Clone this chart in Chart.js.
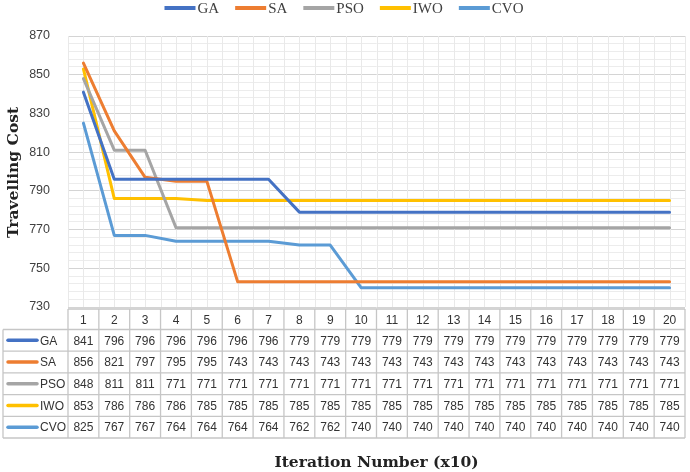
<!DOCTYPE html>
<html>
<head>
<meta charset="utf-8">
<script src="https://cdn.jsdelivr.net/npm/chart.js@4.4.0/dist/chart.umd.min.js"></script>
<style>
  html, body { margin: 0; padding: 0; background: #fff; }
  #wrap { width: 690px; height: 472px; }
</style>
</head>
<body>
<div id="wrap"><canvas id="chart" width="690" height="472"></canvas></div>
<script>
// iteration labels (x10) and travelling cost per algorithm
const iterations = ['1','2','3','4','5','6','7','8','9','10','11','12','13','14','15','16','17','18','19','20'];
const seriesNames = ['GA', 'SA', 'PSO', 'IWO', 'CVO'];
const gaCost  = [841, 796, 796, 796, 796, 796, 796, 779, 779, 779, 779, 779, 779, 779, 779, 779, 779, 779, 779, 779];
const saCost  = [856, 821, 797, 795, 795, 743, 743, 743, 743, 743, 743, 743, 743, 743, 743, 743, 743, 743, 743, 743];
const psoCost = [848, 811, 811, 771, 771, 771, 771, 771, 771, 771, 771, 771, 771, 771, 771, 771, 771, 771, 771, 771];
const iwoCost = [853, 786, 786, 786, 785, 785, 785, 785, 785, 785, 785, 785, 785, 785, 785, 785, 785, 785, 785, 785];
const cvoCost = [825, 767, 767, 764, 764, 764, 764, 762, 762, 740, 740, 740, 740, 740, 740, 740, 740, 740, 740, 740];
const yMin = 730, yMax = 870, yMajor = 20, yMinor = 4;

const seriesValues = [gaCost, saCost, psoCost, iwoCost, cvoCost];
const seriesColors = ['#4472C4', '#ED7D31', '#A5A5A5', '#FFC000', '#5B9BD5'];

const sansFont = '"Liberation Sans", Arial, sans-serif';
const serifFont = '"Liberation Serif", "DejaVu Serif", serif';
const titleFont = '"DejaVu Serif", "Liberation Serif", serif';

// light vertical grid at category centres and borders (Excel style)
const verticalGrid = {
    id: 'verticalGrid',
    beforeDatasetsDraw(chart) {
        const { ctx, chartArea, scales: { x } } = chart;
        const half = (x.getPixelForValue(1) - x.getPixelForValue(0)) / 2;
        ctx.save();
        ctx.strokeStyle = '#e9e9e9';
        ctx.lineWidth = 1;
        iterations.forEach((lab, i) => {
            const cx = x.getPixelForValue(i);
            [cx - half, cx, cx + half].forEach(px => {
                ctx.beginPath();
                ctx.moveTo(Math.round(px) + 0.5, chartArea.top);
                ctx.lineTo(Math.round(px) + 0.5, chartArea.bottom);
                ctx.stroke();
            });
        });
        ctx.restore();
    }
};

// legend row at the very top, swatch + name
const topLegend = {
    id: 'topLegend',
    afterDraw(chart) {
        const { ctx } = chart;
        ctx.save();
        ctx.font = '15px ' + serifFont;
        ctx.textBaseline = 'middle';
        const sw = 31, gapText = 2, gapItem = 16, cy = 8;
        const widths = seriesNames.map(n => sw + gapText + ctx.measureText(n).width);
        const total = widths.reduce((a, b) => a + b, 0) + gapItem * (seriesNames.length - 1);
        let px = 344 - total / 2;
        seriesNames.forEach((name, i) => {
            ctx.fillStyle = seriesColors[i];
            ctx.fillRect(px, cy - 2, sw, 4);
            ctx.fillStyle = '#404040';
            ctx.fillText(name, px + sw + gapText, cy + 1);
            px += widths[i] + gapItem;
        });
        ctx.restore();
    }
};

// data table under the plot + axis titles
const dataTable = {
    id: 'dataTable',
    afterDraw(chart) {
        const { ctx, chartArea, scales: { x } } = chart;
        const half = (x.getPixelForValue(1) - x.getPixelForValue(0)) / 2;
        const top = chartArea.bottom + 2;
        const headH = 20.5, rowH = 21.7;
        const tableLeft = 3;
        const colLeft = chartArea.left, right = chartArea.right;
        const bottom = top + headH + rowH * seriesNames.length;

        ctx.save();
        ctx.strokeStyle = '#c6c6c6';
        ctx.lineWidth = 1.3;
        ctx.beginPath();
        ctx.moveTo(colLeft, top); ctx.lineTo(right, top);
        for (let r = 0; r <= seriesNames.length; r++) {
            const y = top + headH + r * rowH;
            ctx.moveTo(tableLeft, y); ctx.lineTo(right, y);
        }
        ctx.moveTo(tableLeft, top + headH); ctx.lineTo(tableLeft, bottom);
        iterations.forEach((lab, i) => {
            const px = x.getPixelForValue(i) - half;
            ctx.moveTo(px, top); ctx.lineTo(px, bottom);
        });
        ctx.moveTo(right, top); ctx.lineTo(right, bottom);
        ctx.stroke();

        ctx.fillStyle = '#333';
        ctx.font = '12px ' + sansFont;
        ctx.textAlign = 'center';
        ctx.textBaseline = 'middle';
        iterations.forEach((lab, i) => {
            ctx.fillText(lab, x.getPixelForValue(i), top + headH / 2 + 1);
        });
        seriesNames.forEach((name, r) => {
            const cy = top + headH + r * rowH + rowH / 2 + 1;
            seriesValues[r].forEach((v, i) => {
                ctx.fillText(String(v), x.getPixelForValue(i), cy);
            });
            ctx.strokeStyle = seriesColors[r];
            ctx.lineWidth = 3.5;
            ctx.lineCap = 'round';
            ctx.beginPath();
            ctx.moveTo(8, cy - 1); ctx.lineTo(37, cy - 1);
            ctx.stroke();
            ctx.textAlign = 'left';
            ctx.fillText(name, 40, cy);
            ctx.textAlign = 'center';
        });

        // axis titles
        ctx.fillStyle = '#222';
        ctx.font = 'bold 15.5px ' + titleFont;
        ctx.textAlign = 'center';
        ctx.textBaseline = 'middle';
        ctx.fillText('Iteration Number (x10)', (chartArea.left + chartArea.right) / 2, 463);
        ctx.translate(14, (chartArea.top + chartArea.bottom) / 2 + 1);
        ctx.rotate(-Math.PI / 2);
        ctx.fillText('Travelling Cost', 0, 0);
        ctx.restore();
    }
};

new Chart(document.getElementById('chart'), {
    type: 'line',
    data: {
        labels: iterations,
        datasets: seriesNames.map((name, i) => ({
            label: name,
            data: seriesValues[i],
            borderColor: seriesColors[i],
            backgroundColor: seriesColors[i],
            borderWidth: 3,
            pointRadius: 0,
            tension: 0,
            borderJoinStyle: 'round',
            borderCapStyle: 'round',
            fill: false
        }))
    },
    options: {
        responsive: false,
        devicePixelRatio: 1,
        animation: false,
        layout: { padding: { left: 0, right: 5, top: 36, bottom: 0 } },
        plugins: {
            legend: { display: false },
            tooltip: { enabled: false }
        },
        scales: {
            x: {
                offset: true,
                ticks: { display: false },
                grid: { display: false },
                border: { display: false },
                afterFit(scale) { scale.height = 165; }
            },
            y: {
                min: yMin, max: yMax,
                ticks: {
                    stepSize: yMinor, autoSkip: false, padding: 18,
                    color: '#404040',
                    font: { family: sansFont, size: 12.5 },
                    callback: v => ((v - yMin) % yMajor === 0 ? v : '')
                },
                grid: {
                    drawTicks: false,
                    color: c => ((c.tick.value - yMin) % yMajor === 0 ? '#d4d4d4' : '#ececec')
                },
                border: { display: false },
                afterFit(scale) { scale.width = 68; }
            }
        }
    },
    plugins: [verticalGrid, topLegend, dataTable]
});
</script>
</body>
</html>
